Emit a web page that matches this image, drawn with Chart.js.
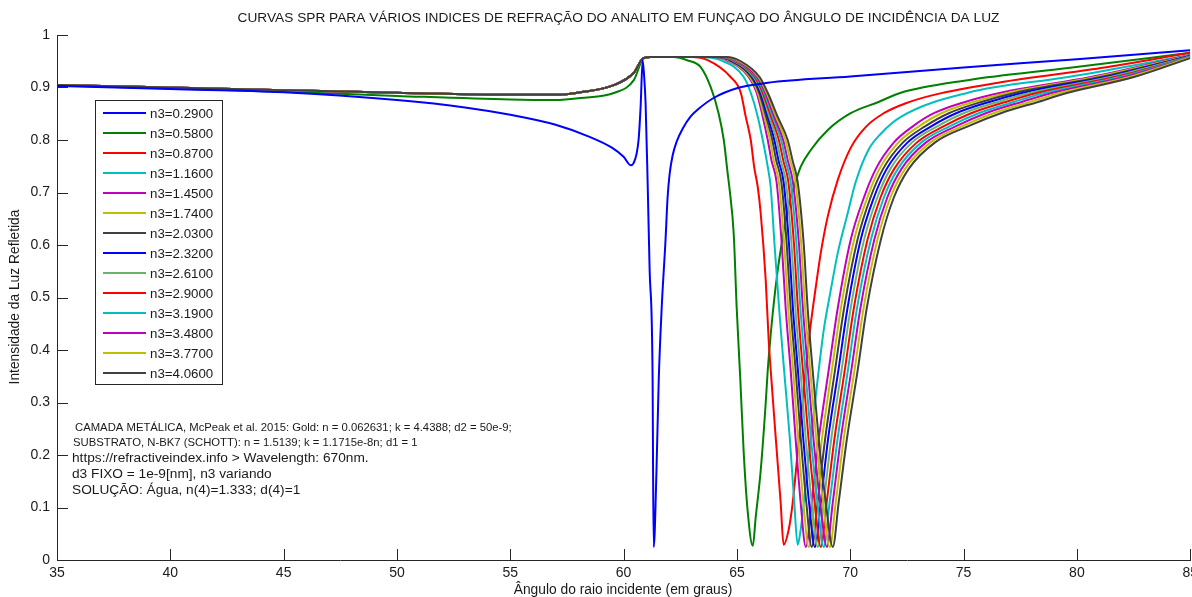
<!DOCTYPE html>
<html><head><meta charset="utf-8">
<script src="https://cdn.jsdelivr.net/npm/chart.js@4.4.1/dist/chart.umd.min.js"></script>
<style>html,body{margin:0;padding:0;overflow:hidden;background:#fff;} #wrap{width:1203px;height:597px;}</style>
</head><body><div id="wrap"><canvas id="c" width="1203" height="597"></canvas></div>
<script>
// ---------- DATA ----------
const seriesLabels = ['n3=0.2900','n3=0.5800','n3=0.8700','n3=1.1600','n3=1.4500','n3=1.7400','n3=2.0300','n3=2.3200','n3=2.6100','n3=2.9000','n3=3.1900','n3=3.4800','n3=3.7700','n3=4.0600'];
const xTicks = [35,40,45,50,55,60,65,70,75,80,85];
const yTicks = [0,0.1,0.2,0.3,0.4,0.5,0.6,0.7,0.8,0.9,1];

// n3 = 0.29 (full curve)
const blueAngle = [35,40,45,50,53,55,57,58.5,59.5,60.0,60.31,60.44,60.66,60.75,60.84,60.90,60.97,61.06,61.15,61.28,61.30,61.33,61.45,61.55,61.68,61.85,61.94,62.03,62.16,62.34,62.61,62.96,63.27,63.97,65.03,66.36,70,75,80,85];
const blueRefl  = [0.903,0.897,0.891,0.876,0.862,0.848,0.829,0.806,0.785,0.768,0.752,0.756,0.800,0.863,0.952,0.925,0.870,0.720,0.550,0.343,0.170,0.025,0.170,0.343,0.480,0.610,0.690,0.735,0.770,0.797,0.822,0.845,0.858,0.880,0.899,0.909,0.921,0.938,0.954,0.971];

// n3 = 0.58 (full curve)
const greenAngle = [35,40,45,50,55,57,58.1,59.6,60.45,60.87,61.2,62.2,62.8,63.40,63.84,64.19,64.42,64.59,64.68,64.86,64.99,65.15,65.30,65.47,65.70,65.83,66.05,66.27,66.36,66.58,66.80,67.02,67.15,67.37,67.59,67.81,68.26,69.01,70.02,71.22,72.23,75.19,79.61,85];
const greenRefl  = [0.904,0.898,0.892,0.884,0.877,0.876,0.880,0.890,0.914,0.955,0.958,0.958,0.952,0.939,0.901,0.851,0.800,0.737,0.705,0.620,0.480,0.343,0.204,0.095,0.027,0.082,0.171,0.299,0.362,0.470,0.552,0.615,0.648,0.690,0.720,0.749,0.781,0.819,0.851,0.872,0.890,0.914,0.937,0.966];

// shared left part (35..61.2 deg) for n3 >= 0.87
const leftAngle = [35,40,45,50,55,57,58.1,59.6,60.45,60.87,61.2];
const leftRefl  = [0.905,0.900,0.895,0.890,0.886,0.886,0.891,0.905,0.928,0.956,0.958];

// n3 = 0.87 (right part)
const redAngle = [63.0,63.71,64.72,65.17,65.39,65.61,65.76,65.92,66.05,66.27,66.40,66.49,66.71,66.93,67.06,67.28,67.46,67.73,68.03,68.26,68.48,68.70,69.01,69.45,70.02,70.69,71.48,72.45,73.69,76.64,81.06,85];
const redRefl  = [0.958,0.952,0.920,0.890,0.844,0.800,0.749,0.710,0.660,0.533,0.419,0.362,0.234,0.109,0.029,0.057,0.109,0.229,0.362,0.450,0.520,0.585,0.655,0.724,0.785,0.825,0.851,0.870,0.886,0.910,0.937,0.966];

// n3 = 1.16 (right part)
const cyanAngle = [63.3,64.28,65.30,65.61,65.92,66.14,66.36,66.49,66.66,66.86,67.08,67.33,67.53,67.68,67.81,67.95,68.26,68.61,68.83,69.14,69.45,69.89,70.24,70.80,71.35,72.23,75.19,79.61,85];
const cyanRefl  = [0.958,0.952,0.920,0.890,0.844,0.800,0.749,0.710,0.600,0.480,0.362,0.234,0.109,0.029,0.057,0.109,0.229,0.362,0.438,0.514,0.585,0.661,0.720,0.781,0.812,0.844,0.890,0.920,0.962];

// n3 = 1.45 .. 4.06 : angle read at each of these reflectance levels (falling edge, minimum, rising edge)
const clusterLevels = [0.958,0.95,0.92,0.89,0.844,0.80,0.76,0.72,0.60,0.48,0.362,0.23,0.11,0.025,0.11,0.23,0.362,0.48,0.61,0.69,0.745,0.795,0.826,0.851,0.873,0.89,0.92];
const a145 = [63.93,64.64,65.52,65.87,66.14,66.36,66.53,66.75,66.98,67.15,67.37,67.59,67.81,68.04,68.30,68.61,69.05,69.45,70.02,70.60,71.13,71.92,72.76,73.69,75.10,76.64,80.62];
const a174 = [63.99,64.70,65.57,65.92,66.21,66.46,66.63,66.85,67.09,67.26,67.48,67.70,67.93,68.17,68.43,68.75,69.19,69.59,70.17,70.75,71.29,72.12,73.03,74.02,75.46,76.97,80.83];
const a203 = [64.06,64.76,65.63,65.98,66.29,66.56,66.74,66.96,67.20,67.37,67.59,67.82,68.06,68.30,68.56,68.89,69.33,69.73,70.32,70.89,71.45,72.32,73.30,74.35,75.82,77.30,81.04];
const a232 = [64.12,64.82,65.68,66.03,66.36,66.65,66.84,67.06,67.30,67.47,67.69,67.93,68.18,68.44,68.70,69.02,69.48,69.88,70.46,71.04,71.61,72.52,73.57,74.67,76.17,77.63,81.25];
const a261 = [64.18,64.88,65.73,66.09,66.43,66.75,66.94,67.16,67.41,67.58,67.80,68.04,68.30,68.57,68.83,69.16,69.62,70.02,70.61,71.19,71.77,72.72,73.84,75.00,76.53,77.96,81.46];
const a290 = [64.25,64.93,65.79,66.14,66.51,66.85,67.05,67.27,67.52,67.69,67.91,68.16,68.43,68.70,68.96,69.30,69.76,70.16,70.76,71.33,71.94,72.93,74.11,75.33,76.89,78.28,81.68];
const a319 = [64.31,64.99,65.84,66.20,66.58,66.95,67.15,67.37,67.63,67.80,68.02,68.27,68.55,68.83,69.09,69.44,69.90,70.30,70.91,71.48,72.10,73.13,74.38,75.66,77.25,78.61,81.89];
const a348 = [64.37,65.05,65.89,66.25,66.65,67.04,67.25,67.47,67.74,67.91,68.13,68.38,68.67,68.97,69.23,69.58,70.05,70.45,71.06,71.63,72.26,73.33,74.65,75.98,77.60,78.94,82.10];
const a377 = [64.44,65.11,65.95,66.31,66.73,67.14,67.36,67.58,67.84,68.01,68.23,68.50,68.80,69.10,69.36,69.71,70.19,70.59,71.20,71.77,72.42,73.53,74.92,76.31,77.96,79.27,82.31];
const a406 = [64.50,65.17,66.00,66.36,66.80,67.24,67.46,67.68,67.95,68.12,68.34,68.61,68.92,69.23,69.49,69.85,70.33,70.73,71.35,71.92,72.58,73.73,75.19,76.64,78.32,79.60,82.52];
const clusterEndRefl = [0.962,0.961,0.960,0.960,0.959,0.958,0.958,0.957,0.957,0.956];

// ---------- STYLE ----------
const colors = ['#0000ff','#008000','#ff0000','#00bfbf','#bf00bf','#bfbf00','#404040','#0000ff','#6ab46a','#ff0000','#00bfbf','#bf00bf','#bfbf00','#404040'];
const FONT = '"Liberation Sans", Arial, sans-serif';
const TXT = '#1a1a1a';

function pts(xs, ys){ return xs.map((x,i)=>({x:x, y:ys[i]})); }
const seriesData = [
  pts(blueAngle, blueRefl),
  pts(greenAngle, greenRefl),
  pts(leftAngle, leftRefl).concat(pts(redAngle, redRefl)),
  pts(leftAngle, leftRefl).concat(pts(cyanAngle, cyanRefl))
];
[a145,a174,a203,a232,a261,a290,a319,a348,a377,a406].forEach((arr,k)=>{
  seriesData.push(pts(leftAngle,leftRefl).concat(pts(arr,clusterLevels)).concat([{x:85,y:clusterEndRefl[k]}]));
});

const datasets = seriesData.map((d,i)=>({
  label: seriesLabels[i], data: d, borderColor: colors[i], backgroundColor: colors[i],
  borderWidth: 2, pointRadius: 0, fill: false, cubicInterpolationMode: 'monotone',
  order: i === 0 ? -1 : 13 - i
}));

const textPlugin = {
  id: 'texts',
  afterDraw(chart){
    const ctx = chart.ctx, a = chart.chartArea, xs = chart.scales.x, ys = chart.scales.y;
    ctx.save();
    // inward ticks
    ctx.strokeStyle = '#262626'; ctx.lineWidth = 1;
    xTicks.forEach(v=>{ const p = Math.round(xs.getPixelForValue(v))+0.5; ctx.beginPath(); ctx.moveTo(p,a.bottom); ctx.lineTo(p,a.bottom-11); ctx.stroke(); });
    yTicks.forEach(v=>{ const p = Math.round(ys.getPixelForValue(v))+0.5; ctx.beginPath(); ctx.moveTo(a.left,p); ctx.lineTo(a.left+11,p); ctx.stroke(); });
    // title + axis titles
    ctx.fillStyle = TXT; ctx.textBaseline = 'middle'; ctx.textAlign = 'center';
    ctx.font = '13.7px ' + FONT;
    ctx.fillText('CURVAS SPR PARA VÁRIOS INDICES DE REFRAÇÃO DO ANALITO EM FUNÇAO DO ÂNGULO DE INCIDÊNCIA DA LUZ', 618.5, 18);
    ctx.font = '13.8px ' + FONT;
    ctx.fillText('Ângulo do raio incidente (em graus)', 623, 590);
    ctx.save(); ctx.translate(15, 297); ctx.rotate(-Math.PI/2);
    ctx.fillText('Intensidade da Luz Refletida', 0, 0); ctx.restore();
    // annotations
    ctx.textAlign = 'left';
    ctx.font = '11.3px ' + FONT;
    ctx.fillText('CAMADA METÁLICA, McPeak et al. 2015: Gold: n = 0.062631; k = 4.4388; d2 = 50e-9;', 75, 428);
    ctx.fillText('SUBSTRATO, N-BK7 (SCHOTT): n = 1.5139; k = 1.1715e-8n; d1 = 1', 73, 443);
    ctx.font = '13.7px ' + FONT;
    ctx.fillText('https://refractiveindex.info > Wavelength: 670nm.', 72, 458);
    ctx.fillText('d3 FIXO = 1e-9[nm], n3 variando', 72, 474);
    ctx.fillText('SOLUÇÃO: Água, n(4)=1.333; d(4)=1', 72, 490);
    // legend
    ctx.fillStyle = '#ffffff'; ctx.fillRect(95,100,128,285);
    ctx.strokeStyle = '#262626'; ctx.lineWidth = 1; ctx.strokeRect(95.5,100.5,127,284);
    ctx.font = '13.3px ' + FONT;
    seriesLabels.forEach((lab,i)=>{
      const y = 113 + i*20;
      ctx.strokeStyle = colors[i]; ctx.lineWidth = 2;
      ctx.beginPath(); ctx.moveTo(103,y); ctx.lineTo(146,y); ctx.stroke();
      ctx.fillStyle = TXT; ctx.fillText(lab, 150, y+1);
    });
    ctx.restore();
  }
};

new Chart(document.getElementById('c'), {
  type: 'line',
  data: { datasets: datasets },
  options: {
    responsive: false, animation: false, devicePixelRatio: 1,
    layout: { padding: { top: 35, right: 8, left: 0, bottom: 0 } },
    plugins: { legend: { display: false }, title: { display: false }, tooltip: { enabled: false } },
    scales: {
      x: { type: 'linear', min: 35, max: 85,
           afterBuildTicks(s){ s.ticks = xTicks.map(v=>({value:v})); },
           ticks: { color: TXT, font: { family: FONT, size: 14 }, padding: 5, maxRotation: 0, autoSkip: false },
           grid: { display: false, drawTicks: false }, border: { display: true, color: '#262626', width: 1 },
           afterFit(s){ s.height = 37; } },
      y: { type: 'linear', min: 0, max: 1,
           afterBuildTicks(s){ s.ticks = yTicks.map(v=>({value:v})); },
           ticks: { color: TXT, font: { family: FONT, size: 14 }, padding: 7, callback: v => String(Math.round(v*10)/10) },
           grid: { display: false, drawTicks: false }, border: { display: true, color: '#262626', width: 1 },
           afterFit(s){ s.width = 57; } }
    }
  },
  plugins: [textPlugin]
});
</script></body></html>
